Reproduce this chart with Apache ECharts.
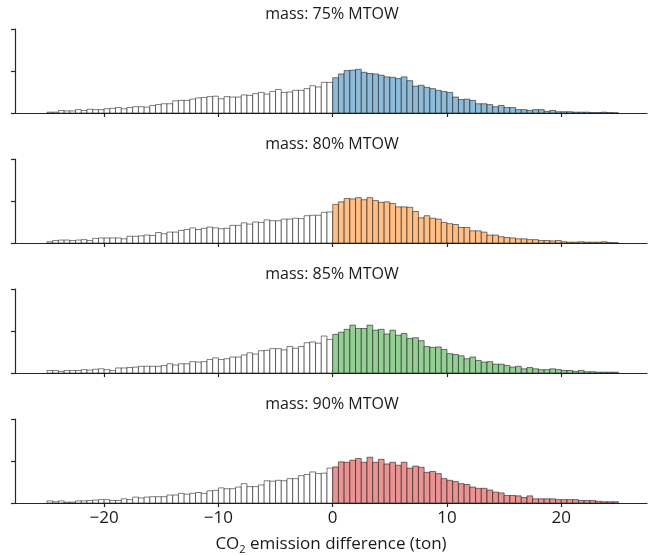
<!DOCTYPE html>
<html>
<head>
<meta charset="utf-8">
<script src="https://cdn.jsdelivr.net/npm/echarts@6/dist/echarts.min.js"></script>
<style>
  html, body { margin: 0; padding: 0; background: #fff; }
  #chart { width: 652px; height: 556px; }
</style>
</head>
<body>
<div id="chart"></div>
<script>
// histogram bins: 100 bins of 0.5 ton from -25 to 25
var binStart = -25;
var binWidth = 0.5;

var titles = ['mass: 75% MTOW', 'mass: 80% MTOW', 'mass: 85% MTOW', 'mass: 90% MTOW'];
var fills = ['#8fbbd9', '#ffbf86', '#95cf95', '#ea9393'];
var xTicks = [-20, -10, 0, 10, 20];

// counts per bin (negative half, then positive half)
var counts75 = [
  2, 2, 6, 5, 5, 8, 6, 9, 8, 8, 10, 11, 13, 10, 13, 15, 15, 14, 18, 20,
  22, 22, 29, 30, 30, 33, 36, 37, 39, 40, 34, 39, 38, 38, 43, 42, 46, 49, 45, 51,
  56, 49, 50, 54, 54, 58, 65, 62, 73, 73,
  84, 93, 101, 102, 104, 97, 94, 93, 90, 86, 85, 82, 86, 77, 64, 66, 61, 58, 54, 51,
  49, 38, 32, 33, 30, 22, 22, 20, 15, 18, 13, 13, 8, 8, 6, 8, 8, 4, 6, 3,
  3, 3, 2, 2, 2, 1, 1, 2, 1, 0.5
];
var counts80 = [
  3, 6, 7, 7, 6, 7, 8, 6, 11, 12, 12, 12, 12, 10, 16, 16, 17, 19, 18, 25,
  22, 26, 26, 30, 32, 36, 32, 35, 38, 36, 34, 35, 42, 42, 48, 45, 50, 49, 55, 53,
  53, 57, 57, 59, 58, 65, 66, 66, 73, 74,
  92, 98, 106, 105, 108, 103, 108, 101, 97, 98, 94, 86, 86, 85, 75, 60, 65, 59, 57, 49,
  46, 44, 37, 37, 29, 29, 26, 19, 19, 15, 13, 12, 10, 10, 8, 8, 6, 6, 5, 6,
  3, 2, 2, 3, 2, 2, 2, 3, 1, 0.5
];
var counts85 = [
  6, 6, 4, 6, 6, 6, 8, 7, 9, 10, 8, 6, 12, 12, 13, 14, 16, 16, 16, 16,
  18, 22, 19, 22, 22, 27, 26, 27, 32, 36, 32, 34, 38, 38, 43, 48, 45, 53, 54, 58,
  58, 55, 63, 59, 63, 72, 74, 71, 88, 80,
  92, 97, 104, 114, 106, 106, 114, 102, 104, 93, 102, 90, 94, 82, 84, 77, 63, 61, 62, 56,
  46, 44, 41, 34, 38, 30, 26, 27, 21, 21, 18, 14, 16, 10, 13, 10, 8, 8, 10, 8,
  6, 6, 4, 6, 3, 3, 2, 2, 2, 2
];
var counts90 = [
  5, 3, 5, 2, 2, 5, 5, 6, 7, 8, 8, 6, 6, 10, 8, 14, 12, 14, 15, 15,
  15, 19, 19, 23, 21, 23, 25, 23, 29, 30, 36, 34, 34, 38, 46, 39, 39, 43, 53, 52,
  54, 53, 58, 58, 65, 68, 74, 70, 71, 83,
  86, 98, 97, 102, 106, 97, 109, 97, 104, 93, 97, 90, 97, 83, 88, 85, 73, 75, 70, 58,
  54, 51, 46, 44, 38, 35, 35, 31, 26, 24, 18, 18, 17, 13, 17, 10, 10, 10, 10, 8,
  8, 8, 8, 6, 6, 6, 4, 3, 3, 3
];
var allCounts = [counts75, counts80, counts85, counts90];

var fontFamily = '"Open Sans", "DejaVu Sans", sans-serif';
var axisColor = '#262626';
var textColor = '#1a1a1a';

function toRows(counts) {
  var rows = [];
  for (var i = 0; i < counts.length; i++) {
    var x0 = binStart + i * binWidth;
    rows.push([x0, x0 + binWidth, counts[i]]);
  }
  return rows;
}

function minusSign(v) {
  return String(v).replace('-', '\u2212');
}

function histItem(fill) {
  return function (params, api) {
    var x0 = api.value(0), x1 = api.value(1), h = api.value(2);
    var p0 = api.coord([x0, h]);
    var p1 = api.coord([x1, 0]);
    return {
      type: 'rect',
      shape: { x: p0[0], y: p0[1], width: p1[0] - p0[0], height: p1[1] - p0[1] },
      style: { fill: x0 < 0 ? '#ffffff' : fill, stroke: 'rgba(0,0,0,0.5)', lineWidth: 1 }
    };
  };
}

function buildOption() {
  var grids = [], xAxes = [], yAxes = [], series = [], graphics = [];
  for (var k = 0; k < 4; k++) {
    var gridTop = 29 + k * 130;
    var last = k === 3;
    grids.push({ left: 15, right: 5, top: gridTop, height: 84 });
    graphics.push({
      type: 'text', x: 332, y: gridTop - 15,
      style: {
        text: titles[k], fill: textColor, font: '16px ' + fontFamily,
        textAlign: 'center', textVerticalAlign: 'middle'
      }
    });
    xAxes.push({
      type: 'value', gridIndex: k, min: -27.8, max: 27.5,
      axisLine: { show: true, onZero: false, lineStyle: { color: axisColor, width: 1.2 } },
      axisTick: { show: true, length: 4, customValues: xTicks, lineStyle: { color: axisColor, width: 1.2 } },
      axisLabel: {
        show: last, customValues: xTicks, margin: 7, color: textColor,
        fontSize: 17, fontFamily: fontFamily, formatter: minusSign
      },
      splitLine: { show: false },
      name: last ? 'CO{sub|2} emission difference (ton)' : '',
      nameLocation: 'middle', nameGap: 31,
      nameTextStyle: {
        color: textColor, fontSize: 17, fontFamily: fontFamily,
        rich: { sub: { fontSize: 11, fontFamily: fontFamily, color: textColor, verticalAlign: 'bottom', padding: [10, 0, 0, 0] } }
      }
    });
    yAxes.push({
      type: 'value', gridIndex: k, min: 0, max: 200, interval: 100,
      axisLine: { show: true, onZero: false, lineStyle: { color: axisColor, width: 1.2 } },
      axisTick: { show: true, length: 4, lineStyle: { color: axisColor, width: 1.2 } },
      axisLabel: { show: false },
      splitLine: { show: false }
    });
    series.push({
      type: 'custom', xAxisIndex: k, yAxisIndex: k,
      data: toRows(allCounts[k]),
      encode: { x: [0, 1], y: 2 },
      renderItem: histItem(fills[k]),
      silent: true
    });
  }
  return {
    animation: false,
    backgroundColor: '#ffffff',
    grid: grids, xAxis: xAxes, yAxis: yAxes, series: series, graphic: graphics
  };
}

var chart = echarts.init(document.getElementById('chart'));
chart.setOption(buildOption());

window.onresize = function () {
  chart.resize();
};
</script>
</body>
</html>
